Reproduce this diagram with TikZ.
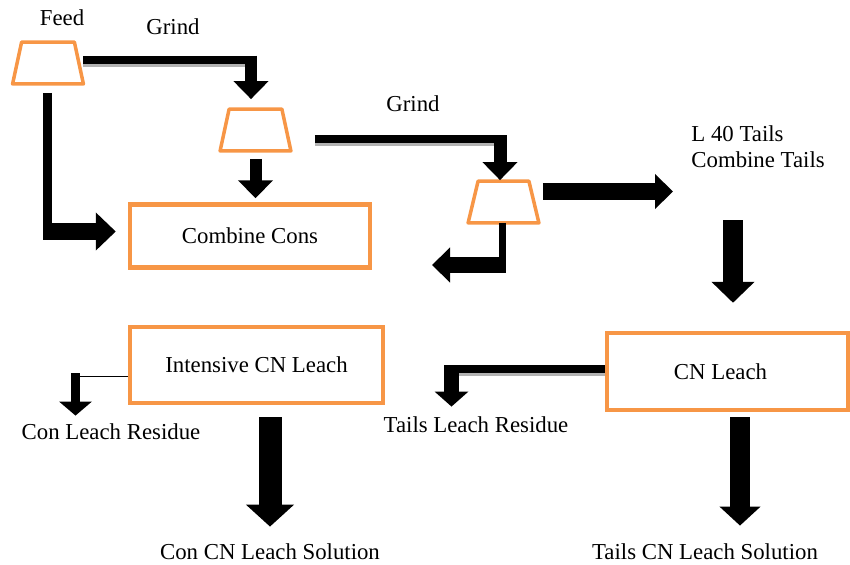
\documentclass[tikz,border=0pt]{standalone}
\usepackage{fontspec}
\setmainfont{Liberation Serif}
\usepackage{xcolor}
\usetikzlibrary{shapes.geometric, arrows.meta, positioning, calc}

\definecolor{cellorange}{RGB}{247,150,70}

\begin{document}
\begin{tikzpicture}[
  x=0.5pt, y=0.5pt,
  font=\fontsize{11.4}{13}\selectfont,
  cell/.style={rectangle, minimum width=35pt, minimum height=20.5pt,
    inner sep=0pt},
  cellline/.style={draw=cellorange, line width=1.75pt, line join=round},
  stage/.style={rectangle, draw=cellorange, line width=2.25pt,
    text centered, inner sep=2pt},
  lbl/.style={inner sep=2pt},
  pipe/.style={draw=black, line width=#1},
  flow/.style={draw=black, line width=#1,
    -{Triangle[length=9pt, width=17pt]}},
  bigflow/.style={draw=black, line width=#1,
    -{Triangle[length=10.5pt, width=21pt]}},
  shade/.style={draw=black!30, line width=#1},
]
\useasboundingbox (0,0) rectangle (850,-564);

% flotation cells
\node[cell] (feed)  at (48,-63)   {};
\node[cell] (cellB) at (255.5,-130) {};
\node[cell] (cellC) at (503.5,-202) {};
\foreach \c/\d in {feed/4.5pt, cellB/4.5pt, cellC/5pt}
  \draw[cellline] ([xshift=\d]\c.north west) -- ([xshift=-\d]\c.north east)
    -- (\c.south east) -- (\c.south west) -- cycle;

% process boxes
\node[stage, minimum width=120pt, minimum height=31.5pt]
      (cons) at (250,-236) {Combine Cons};
\node[stage, minimum width=126.5pt, minimum height=38pt]
      (icn) at (256.5,-365) {Intensive CN Leach};
\node[stage, minimum width=120.5pt, minimum height=38.5pt]
      (cnl) at (727.5,-371.5) {CN Leach\hspace*{7pt}};

% labels
\node[lbl] (feedlbl) at (62,-18)  {Feed};
\node[lbl] (grindA)  at (173,-27) {Grind};
\node[lbl] (grindB)  at (413,-104) {Grind};
\node[lbl, align=left, anchor=west] (tails) at (687,-147)
      {L 40 Tails\\Combine Tails};
\node[lbl] (conres)  at (111,-432) {Con Leach Residue};
\node[lbl] (consol)  at (270,-552) {Con CN Leach Solution};
\node[lbl] (tailres) at (476,-425) {Tails Leach Residue};
\node[lbl] (tailsol) at (705,-552) {Tails CN Leach Solution};

% corners
\coordinate (kA) at (251,-59.5);
\coordinate (kB) at (47.5,-231.5);
\coordinate (kC) at (500,-139);
\coordinate (kD) at (502,-265);
\coordinate (ret) at (432,-265);
\coordinate (tin) at (673,-191.5);
\coordinate (kE) at (733,-220);
\coordinate (kF) at (75.5,-376);
\coordinate (kH) at (451.5,-369);

% feed -> second cell
\draw[shade=2pt] ([yshift=-2.5pt]feed.east |- kA) -- ([xshift=3pt,yshift=-2.5pt]kA);
\draw[pipe=4pt] (feed.east |- kA) -- ([xshift=3pt]kA);
\draw[flow=6pt] ([yshift=2pt]kA) -- ([yshift=5pt]cellB.north -| kA);

% feed -> combine cons
\draw[pipe=4.5pt, shorten <=4.5pt] (feed.south -| kB) -- ([yshift=-4.25pt]kB);
\draw[flow=8.5pt, -{Triangle[length=10pt, width=18.5pt]}]
  ([xshift=-2.25pt]kB) -- ([xshift=-6pt]cons.west |- kB);

% second cell -> combine cons
\draw[flow=6pt] ([yshift=-4pt]cellB.south) -- ([yshift=2pt]cellB.south |- cons.north);

% second cell -> third cell
\draw[shade=2pt] ([xshift=12pt,yshift=-2.5pt]cellB.east |- kC) -- ([xshift=3.25pt,yshift=-2.5pt]kC);
\draw[pipe=4pt] ([xshift=12pt]cellB.east |- kC) -- ([xshift=3.25pt]kC);
\draw[flow=6.5pt] ([yshift=2pt]kC) -- ([yshift=0.5pt]cellC.north -| kC);

% third cell -> back left
\draw[pipe=3.5pt] (cellC.south -| kD) -- ([yshift=-4pt]kD);
\draw[flow=8pt] ([xshift=1.75pt]kD) -- (ret);

% third cell -> tails
\draw[flow=8.5pt] ([xshift=2pt]cellC.east |- tin) -- (tin);

% tails -> CN leach
\draw[bigflow=10pt, shorten <=24pt] (tails.south -| kE) -- ([yshift=14pt]cnl.north -| kE);

% intensive leach -> residue
\draw[line width=0.5pt] (icn.west |- kF) -- (kF);
\draw[flow=4.5pt, -{Triangle[length=7pt, width=16pt]}]
  ([yshift=1.5pt]kF) -- ([yshift=2pt]conres.north -| kF);

% intensive leach -> solution
\draw[flow=11.5pt, -{Triangle[length=11pt, width=23.5pt]},
  shorten <=6pt, shorten >=6.5pt] (icn.south -| consol.north) -- (consol.north);

% CN leach -> tails residue
\draw[shade=2pt] ([yshift=-2.5pt]cnl.west |- kH) -- ([xshift=-3.75pt,yshift=-2.5pt]kH);
\draw[pipe=4pt] (cnl.west |- kH) -- ([xshift=-3.75pt]kH);
\draw[flow=7.5pt, -{Triangle[length=7.5pt, width=16.5pt]}, shorten >=3pt]
  ([yshift=2pt]kH) -- (tailres.north -| kH);

% CN leach -> tails solution
\draw[bigflow=10pt, -{Triangle[length=9.5pt, width=20pt]},
  shorten <=2.5pt, shorten >=7pt]
  ([xshift=6.25pt]cnl.south) -- ([xshift=6.25pt]cnl.south |- tailsol.north);

\end{tikzpicture}
\end{document}
